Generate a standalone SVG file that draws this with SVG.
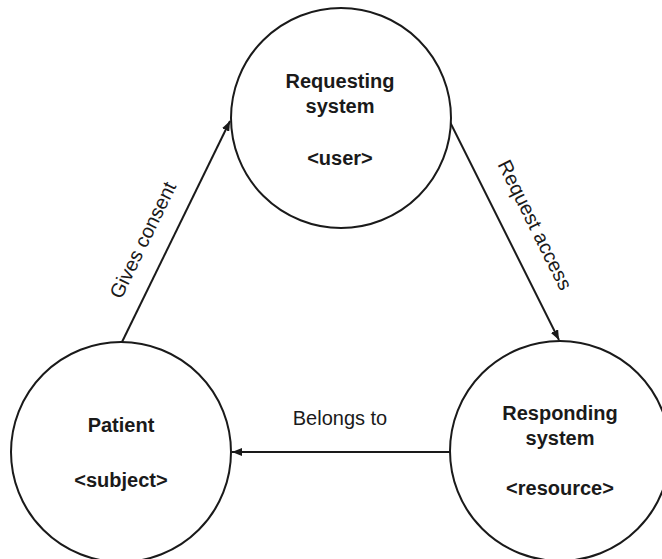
<svg xmlns="http://www.w3.org/2000/svg" width="662" height="559" viewBox="0 0 662 559">
  <style>
    .node circle { fill: #ffffff; stroke: #1a1a1a; stroke-width: 2; }
    .title { font-family: "Liberation Sans", Arial, sans-serif; font-weight: bold; font-size: 20px; fill: #1a1a1a; text-anchor: middle; }
    .edge { stroke: #1a1a1a; stroke-width: 2; fill: none; marker-end: url(#arrow); }
    .label { font-family: "Liberation Sans", Arial, sans-serif; font-size: 20px; fill: #1a1a1a; text-anchor: middle; }
  </style>
  <defs>
    <marker id="arrow" viewBox="0 0 10 8" refX="10" refY="4" markerWidth="10" markerHeight="8" markerUnits="userSpaceOnUse" orient="auto">
      <path d="M0,0 L10,4 L0,8 Z" fill="#1a1a1a"/>
    </marker>
  </defs>
  <rect width="662" height="559" fill="#ffffff"/>

  <g id="connectors">
    <line class="edge" x1="122" y1="342" x2="230" y2="121"/>
    <line class="edge" x1="450" y1="122" x2="559" y2="340"/>
    <line class="edge" x1="450" y1="452" x2="232" y2="452"/>
    <text class="label" transform="translate(149,243) rotate(-64)">Gives consent</text>
    <text class="label" transform="translate(529,228) rotate(63.6)">Request access</text>
    <text class="label" x="340" y="425">Belongs to</text>
  </g>

  <g id="requesting-system" class="node">
    <circle cx="341" cy="118" r="110"/>
    <text class="title" x="340" y="88">Requesting</text>
    <text class="title" x="340" y="113">system</text>
    <text class="title" x="340" y="165">&lt;user&gt;</text>
  </g>

  <g id="patient" class="node">
    <circle cx="121" cy="452" r="110"/>
    <text class="title" x="121" y="432">Patient</text>
    <text class="title" x="121" y="487">&lt;subject&gt;</text>
  </g>

  <g id="responding-system" class="node">
    <circle cx="560" cy="451" r="110"/>
    <text class="title" x="560" y="420">Responding</text>
    <text class="title" x="560" y="445">system</text>
    <text class="title" x="560" y="495">&lt;resource&gt;</text>
  </g>
</svg>
